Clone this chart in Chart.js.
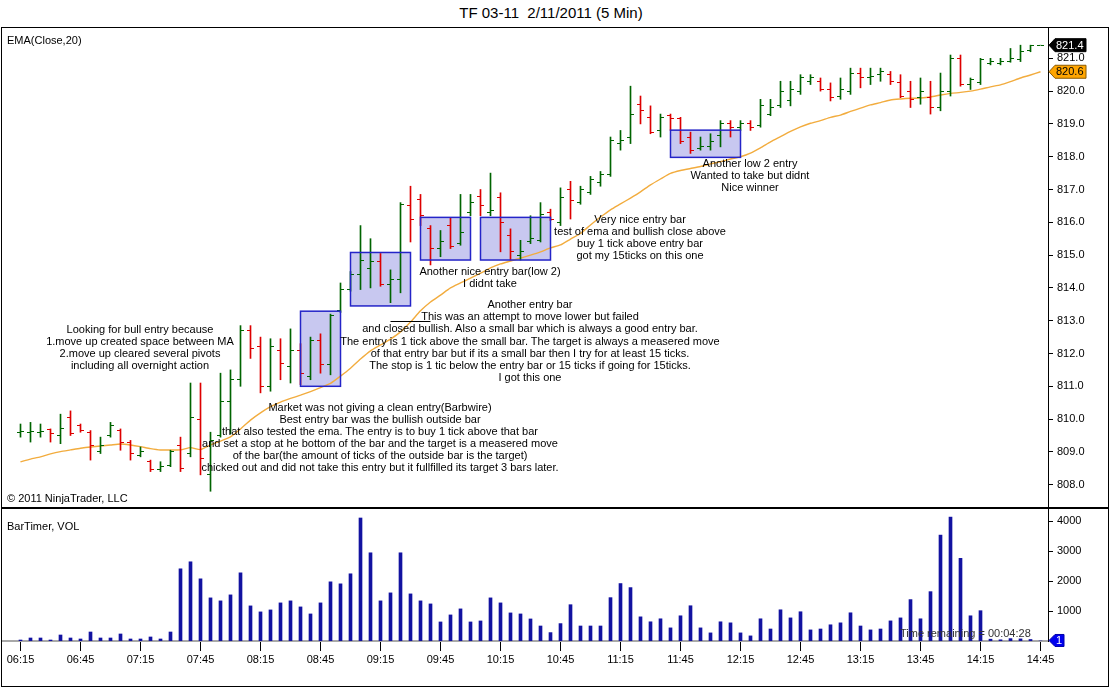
<!DOCTYPE html>
<html><head><meta charset="utf-8">
<script src="https://cdn.jsdelivr.net/npm/chart.js@4.4.1/dist/chart.umd.min.js"></script>
<style>
html,body{margin:0;padding:0;background:#fff;width:1110px;height:688px;overflow:hidden;font-family:Arial,"Liberation Sans",sans-serif;}
#wrap{position:relative;width:1110px;height:688px;}
canvas{position:absolute;left:0;}
#cp{top:0;} #cv{top:508px;}
.t{position:absolute;font-size:11px;color:#000;white-space:pre;line-height:12px;z-index:5;}
.c{text-align:center;transform:translateX(-50%);}
#frame{position:absolute;left:1px;top:27px;width:1108px;height:660px;box-sizing:border-box;border:1px solid #000;z-index:4;pointer-events:none;}
#sep{position:absolute;left:1px;top:507px;width:1108px;height:2px;background:#000;z-index:4;}
#title{position:absolute;left:0;top:3px;width:1102px;text-align:center;font-size:15px;line-height:20px;white-space:pre;}
</style></head>
<body><div id="wrap">
<div id="title">TF 03-11  2/11/2011 (5 Min)</div>
<canvas id="cp" width="1110" height="508"></canvas>
<canvas id="cv" width="1110" height="180"></canvas>
<div id="frame"></div><div id="sep"></div>
<div class="t" style="left:7px;top:34px;">EMA(Close,20)</div>
<div class="t" style="left:7px;top:492px;">© 2011 NinjaTrader, LLC</div>
<div class="t" style="left:7px;top:520px;">BarTimer, VOL</div>
<div class="t" style="left:900px;top:627px;color:#333;">Time remaining = 00:04:28</div>
<div class="t c" style="left:140px;top:323px;">Looking for bull entry because
1.move up created space between MA
2.move up cleared several pivots
including all overnight action</div>
<div class="t c" style="left:380px;top:401px;">Market was not giving a clean entry(Barbwire)
Best entry bar was the bullish outside bar
that also tested the ema. The entry is to buy 1 tick above that bar
and set a stop at he bottom of the bar and the target is a measered move
of the bar(the amount of ticks of the outside bar is the target)
chicked out and did not take this entry but it fullfilled its target 3 bars later.</div>
<div class="t c" style="left:490px;top:265px;">Another nice entry bar(low 2)
I didnt take</div>
<div class="t c" style="left:530px;top:298px;line-height:12.2px;">Another entry bar
This was an attempt to move lower but failed
and closed bullish. Also a small bar which is always a good entry bar.
The entry is 1 tick above the small bar. The target is always a measered move
of that entry bar but if its a small bar then I try for at least 15 ticks.
The stop is 1 tic below the entry bar or 15 ticks if going for 15ticks.
I got this one</div>
<div class="t c" style="left:640px;top:213px;">Very nice entry bar
test of ema and bullish close above
buy 1 tick above entry bar
got my 15ticks on this one</div>
<div class="t c" style="left:750px;top:157px;">Another low 2 entry
Wanted to take but didnt
Nice winner</div>
</div>
<script>
// ---- data (5-min bars from 06:15 to 14:45) ----
const timeLabels = ["06:15","06:45","07:15","07:45","08:15","08:45","09:15","09:45","10:15","10:45","11:15","11:45","12:15","12:45","13:15","13:45","14:15","14:45"];
const labelEvery = 6;
const priceTicks = [808,809,810,811,812,813,814,815,816,817,818,819,820,821];
const volTicks = [1000,2000,3000,4000];

const open = [809.58,809.58,809.58,809.68,809.5,810.05,809.8,809.6,809.0,809.5,
809.65,809.3,808.9,808.7,808.45,808.6,809.2,808.95,810.0,808.3,
809.5,810.55,811.2,812.7,812.2,811.0,812.1,811.6,812.1,811.3,
812.4,811.65,813.3,813.95,814.4,814.6,814.8,814.1,814.25,816.5,
816.7,815.8,815.2,815.9,815.35,816.3,816.8,816.3,816.75,815.6,
815.0,815.4,815.45,816.3,816.0,817.0,816.6,816.9,817.2,817.45,
818.4,818.6,819.6,819.2,818.8,819.25,819.15,818.6,818.25,818.3,
818.65,819.0,818.9,819.0,818.95,819.3,819.55,819.7,820.0,820.3,
820.3,820.05,819.85,820.0,820.55,820.4,820.5,820.5,820.25,820.0,
819.8,819.8,819.5,820.0,821.0,820.2,820.25,820.85,820.85,820.9,
820.95,821.25,821.4];
const high = [809.85,809.9,809.85,809.7,810.15,810.25,809.85,809.65,809.45,809.9,
809.7,809.35,809.15,808.75,808.7,809.05,809.45,811.1,811.1,809.6,
811.4,811.5,812.85,812.85,812.5,812.45,812.45,812.75,812.3,812.5,
812.6,813.2,814.15,814.5,815.9,815.5,815.05,814.55,816.6,817.1,
816.85,815.9,815.75,816.15,816.85,816.85,817.0,817.5,816.9,815.8,
815.45,816.2,816.6,816.4,817.05,817.25,817.1,817.4,817.55,818.6,
818.8,820.15,819.85,819.55,819.3,819.3,819.2,818.75,818.6,818.7,
819.1,819.1,819.1,819.1,819.75,819.75,820.3,820.3,820.5,820.5,
820.4,820.25,820.4,820.7,820.7,820.7,820.7,820.6,820.5,820.3,
820.4,820.3,820.55,821.1,821.1,820.4,821.0,821.0,821.0,821.3,
821.4,821.4,821.4];
const low = [809.45,809.3,809.45,809.3,809.25,809.5,809.6,808.75,808.95,809.45,
809.05,808.75,808.85,808.4,808.4,808.55,808.4,808.85,808.3,807.8,
809.45,809.55,811.0,811.85,810.8,810.85,811.2,811.1,811.05,811.2,
811.4,811.35,813.25,813.9,813.95,814.0,814.05,813.55,813.85,815.4,
815.9,814.7,814.95,815.2,815.3,816.2,816.2,816.2,815.1,814.85,
814.85,815.35,815.4,816.05,815.9,816.1,816.55,816.85,817.1,817.4,
818.2,818.4,819.0,818.7,818.6,818.8,818.4,818.1,818.2,818.2,
818.3,818.6,818.8,818.8,818.9,819.25,819.5,819.55,819.9,820.2,
820.0,819.7,819.75,819.9,820.1,820.2,820.3,820.2,819.8,819.5,
819.6,819.3,819.4,819.85,820.15,820.05,820.2,820.8,820.8,820.88,
820.9,821.2,821.4];
const close = [809.62,809.62,809.62,809.55,809.7,809.55,809.65,809.2,809.2,809.8,
809.3,808.95,809.0,808.45,808.55,809.0,808.5,810.05,808.8,809.35,
810.55,811.2,812.7,812.15,811.0,812.2,811.7,812.1,811.4,812.4,
811.65,813.15,813.95,814.4,814.85,814.8,814.1,814.25,816.55,816.1,
816.2,815.2,815.4,815.25,815.7,816.6,816.5,816.35,816.0,815.1,
815.1,815.5,816.25,816.1,816.75,816.65,817.0,817.3,817.45,818.5,
818.5,819.3,819.4,818.75,819.2,819.15,818.45,818.2,818.3,818.45,
819.0,818.9,819.0,818.9,819.55,819.5,820.0,820.05,820.4,820.4,
820.05,819.8,820.05,820.55,820.4,820.45,820.6,820.3,819.85,819.75,
820.0,819.5,820.0,821.0,820.2,820.35,820.95,820.9,820.9,821.0,
821.2,821.4,821.4];
const ema = [808.70,808.78,808.85,808.94,809.01,809.06,809.11,809.15,809.18,809.21,
809.24,809.21,809.16,809.10,809.06,809.06,809.06,809.13,809.07,809.21,
809.33,809.46,809.70,809.97,810.19,810.38,810.52,810.63,810.73,810.84,
810.96,811.09,811.31,811.55,811.83,812.08,812.26,812.44,812.66,812.96,
813.30,813.57,813.78,814.00,814.15,814.30,814.45,814.61,814.73,814.82,
814.91,815.00,815.10,815.22,815.31,815.49,815.66,815.92,816.16,816.38,
816.56,816.74,816.93,817.14,817.32,817.49,817.58,817.64,817.70,817.78,
817.85,817.93,818.00,818.11,818.27,818.45,818.61,818.77,818.91,819.02,
819.10,819.20,819.27,819.38,819.48,819.58,819.65,819.73,819.76,819.78,
819.79,819.82,819.88,819.93,819.96,820.00,820.06,820.13,820.19,820.29,
820.40,820.49,820.59];
const volume = [33,100,100,33,200,100,67,300,100,100,
234,67,67,134,67,300,2406,2640,2072,1437,
1337,1537,2272,1170,970,1036,1270,1337,1136,902,
1270,1972,1905,2240,4100,2940,1337,1604,2940,1570,
1337,1236,635,869,1070,635,668,1437,1270,936,
902,735,500,280,580,1210,500,500,500,1445,
1915,1780,805,640,740,437,840,1175,437,270,
640,605,270,170,740,400,1040,770,975,370,
400,540,605,940,500,370,400,670,770,1380,
740,1645,3530,4130,2755,840,1010,60,40,80,
70,50,1];

// chart annotations (time index / price)
const boxes = [
  {from:28,to:32,top:813.29,bottom:811.0},
  {from:33,to:39,top:815.08,bottom:813.45},
  {from:40,to:45,top:816.15,bottom:814.85},
  {from:46,to:53,top:816.15,bottom:814.85},
  {from:65,to:72,top:818.81,bottom:817.98}
];
const segment = {from:37,to:41,price:813.0};

// ---- styling ----
const FONT = 'Arial, "Liberation Sans", sans-serif';
Chart.defaults.font.family = FONT;
Chart.defaults.font.size = 11;
Chart.defaults.color = '#000';
const GREEN = '#006400', RED = '#dd0000', EMA_COL = 'rgb(242,172,62)', VOL_COL = '#1212a0';
const XMIN = -1.85, XMAX = 102.75;

const idx = open.map((_, i) => i);
const up = idx.map(i => close[i] >= open[i]);

function tickCanvas(color, right){
  const c = document.createElement('canvas'); c.width = 9; c.height = 1;
  const g = c.getContext('2d'); g.fillStyle = color; g.fillRect(right ? 5 : 1, 0, 3, 1);
  return c;
}
const openG = tickCanvas(GREEN,false), openR = tickCanvas(RED,false);
const closeG = tickCanvas(GREEN,true), closeR = tickCanvas(RED,true);

function noPad(s){ s.paddingTop = 0; s.paddingBottom = 0; s.paddingLeft = 0; s.paddingRight = 0; }

function tag(ctx, xL, yC, w, h, fill, stroke, txt, txtColor){
  ctx.save();
  ctx.beginPath();
  ctx.moveTo(xL, yC); ctx.lineTo(xL+6, yC-h/2); ctx.lineTo(xL+w, yC-h/2);
  ctx.lineTo(xL+w, yC+h/2); ctx.lineTo(xL+6, yC+h/2); ctx.closePath();
  ctx.fillStyle = fill; ctx.fill();
  ctx.strokeStyle = stroke; ctx.lineWidth = 1; ctx.stroke();
  ctx.fillStyle = txtColor; ctx.font = '11px ' + FONT; ctx.textBaseline = 'middle'; ctx.textAlign = 'left';
  ctx.fillText(txt, xL+7, yC+0.5);
  ctx.restore();
}

const pricePlugin = {
  id:'pricemarks',
  beforeDraw(chart){ chart.ctx.imageSmoothingEnabled = false; },
  beforeDatasetsDraw(chart){
    const {ctx, scales:{x,y}} = chart;
    ctx.save(); ctx.fillStyle = '#c8c8f0';
    boxes.forEach(b => {
      const x0 = x.getPixelForValue(b.from), x1 = x.getPixelForValue(b.to);
      const y0 = y.getPixelForValue(b.top), y1 = y.getPixelForValue(b.bottom);
      ctx.fillRect(x0, y0, x1-x0, y1-y0);
    });
    ctx.restore();
  },
  afterDatasetsDraw(chart){
    const {ctx, scales:{x,y}} = chart;
    ctx.save(); ctx.strokeStyle = '#2424c8'; ctx.lineWidth = 1.5;
    boxes.forEach(b => {
      const x0 = x.getPixelForValue(b.from), x1 = x.getPixelForValue(b.to);
      const y0 = y.getPixelForValue(b.top), y1 = y.getPixelForValue(b.bottom);
      ctx.strokeRect(x0, y0, x1-x0, y1-y0);
    });
    ctx.strokeStyle = '#000'; ctx.lineWidth = 1;
    const sy = Math.round(y.getPixelForValue(segment.price)) + 0.5;
    ctx.beginPath(); ctx.moveTo(x.getPixelForValue(segment.from), sy); ctx.lineTo(x.getPixelForValue(segment.to), sy); ctx.stroke();
    ctx.restore();
  },
  afterDraw(chart){
    const {ctx, chartArea, scales:{y}} = chart;
    const last = close[close.length-1], lastE = ema[ema.length-1];
    tag(ctx, chartArea.right+1, y.getPixelForValue(last), 37, 13, '#000', '#000', last.toFixed(1), '#fff');
    tag(ctx, chartArea.right+1, y.getPixelForValue(lastE), 37, 13, '#ffa500', '#8a5a00', lastE.toFixed(1), '#000');
  }
};

new Chart(document.getElementById('cp'), {
  type:'bar',
  data:{datasets:[
    {type:'bar', data: idx.map(i => ({x:i, y:[low[i], high[i]]})), backgroundColor: up.map(u => u ? GREEN : RED),
     barThickness:1, borderWidth:0, order:1},
    {type:'scatter', data: idx.map(i => ({x:i, y:open[i]})), pointStyle: c => up[c.dataIndex] ? openG : openR,
     pointRadius:3, showLine:false, order:0},
    {type:'scatter', data: idx.map(i => ({x:i, y:close[i]})), pointStyle: c => up[c.dataIndex] ? closeG : closeR,
     pointRadius:3, showLine:false, order:0},
    {type:'line', data: idx.map(i => ({x:i, y:ema[i]})), borderColor:EMA_COL, borderWidth:1.4, pointRadius:0,
     tension:0.2, fill:false, order:3}
  ]},
  options:{
    responsive:false, animation:false, devicePixelRatio:1, events:[],
    layout:{autoPadding:false, padding:{left:2,right:2,top:28,bottom:1}},
    plugins:{legend:{display:false}, tooltip:{enabled:false}},
    scales:{
      x:{type:'linear', offset:false, min:XMIN, max:XMAX, display:false},
      y:{position:'right', min:807.32, max:821.924, bounds:'data',
         afterFit(s){ s.width = 60; noPad(s); },
         afterBuildTicks(s){ s.ticks = priceTicks.map(v => ({value:v})); },
         ticks:{callback: v => Number(v).toFixed(1), color:'#000', font:{size:11}, padding:4},
         grid:{display:true, drawOnChartArea:false, drawTicks:true, tickLength:5, color:'#000'},
         border:{display:true, color:'#000', width:1}}
    }
  },
  plugins:[pricePlugin]
});

const volPlugin = {
  id:'volmarks',
  afterDraw(chart){
    const {ctx, chartArea, scales:{y}} = chart;
    const last = volume[volume.length-1];
    tag(ctx, chartArea.right+1, y.getPixelForValue(last)-0.5, 15, 12, '#0000ee', '#0000aa', String(last), '#fff');
  }
};

new Chart(document.getElementById('cv'), {
  type:'bar',
  data:{datasets:[
    {type:'bar', data: idx.map(i => ({x:i, y:volume[i]})), backgroundColor:VOL_COL, barThickness:3, borderWidth:0}
  ]},
  options:{
    responsive:false, animation:false, devicePixelRatio:1, events:[],
    layout:{autoPadding:false, padding:{left:2,right:2,top:1,bottom:1}},
    plugins:{legend:{display:false}, tooltip:{enabled:false}},
    scales:{
      x:{type:'linear', offset:false, min:XMIN, max:XMAX,
         afterFit(s){ s.height = 46; noPad(s); },
         afterBuildTicks(s){ s.ticks = timeLabels.map((_, k) => ({value:k*labelEvery})); },
         ticks:{callback:(v, k) => timeLabels[k], autoSkip:false, maxRotation:0, color:'#000', font:{size:11}, padding:2},
         grid:{display:true, offset:false, drawOnChartArea:false, drawTicks:true, tickLength:10, color:'#000'},
         border:{display:true, color:'#a8a8a8', width:2}},
      y:{position:'right', min:0, max:4400, bounds:'data',
         afterFit(s){ s.width = 60; noPad(s); },
         afterBuildTicks(s){ s.ticks = volTicks.map(v => ({value:v})); },
         ticks:{callback: v => String(v), color:'#000', font:{size:11}, padding:4},
         grid:{display:true, drawOnChartArea:false, drawTicks:true, tickLength:5, color:'#000'},
         border:{display:true, color:'#000', width:1}}
    }
  },
  plugins:[volPlugin]
});
</script>
</body></html>
